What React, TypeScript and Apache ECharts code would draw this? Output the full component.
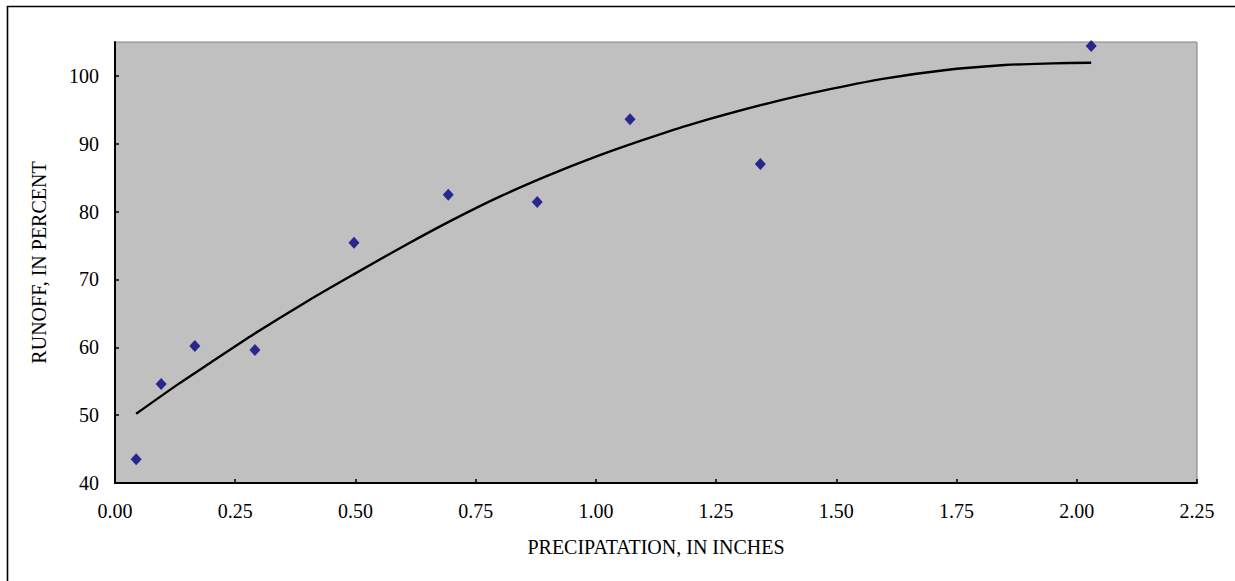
import React, { useEffect, useRef } from "react";
import * as echarts from "echarts";

const precipX = [0.044, 0.096, 0.166, 0.291, 0.497, 0.693, 0.878, 1.071, 1.342, 2.03];
const runoffY = [43.5, 54.6, 60.2, 59.6, 75.4, 82.5, 81.4, 93.6, 87.0, 104.4];

const trendX = [0.044, 0.13, 0.2, 0.29, 0.4, 0.5, 0.6, 0.7, 0.8, 0.9, 1.0, 1.1, 1.2, 1.36, 1.47, 1.6, 1.72, 1.85, 1.95, 2.03];
const trendY = [50.2, 54.5, 57.8, 62.0, 66.8, 70.9, 74.9, 78.7, 82.2, 85.3, 88.1, 90.6, 92.9, 96.0, 97.8, 99.6, 100.8, 101.6, 101.85, 101.95];

const xTitle = "PRECIPATATION, IN INCHES";
const yTitle = "RUNOFF, IN PERCENT";

const FONT = "'Liberation Serif', 'Times New Roman', serif";

export default function App() {
  const ref = useRef<HTMLDivElement>(null);
  useEffect(() => {
    if (!ref.current) return;
    const chart = echarts.init(ref.current, null, { renderer: "svg" });
    chart.setOption({
      animation: false,
      backgroundColor: "#ffffff",
      textStyle: { fontFamily: FONT, color: "#000" },
      graphic: [
        {
          type: "rect",
          shape: { x: 7.5, y: 6.5, width: 1260, height: 600 },
          style: { fill: "none", stroke: "#000", lineWidth: 1.6 },
          silent: true,
        },
      ],
      grid: {
        left: 115,
        top: 42,
        right: 38,
        bottom: 98,
        show: true,
        backgroundColor: "#c0c0c0",
        borderColor: "#808080",
        borderWidth: 1,
      },
      xAxis: {
        type: "value",
        min: 0,
        max: 2.25,
        interval: 0.25,
        name: xTitle,
        nameLocation: "middle",
        nameGap: 54,
        nameTextStyle: { fontFamily: FONT, fontSize: 20, color: "#000" },
        axisLine: { show: true, lineStyle: { color: "#000", width: 2 } },
        axisTick: { show: true, inside: true, length: 4, lineStyle: { color: "#000", width: 1.5 } },
        axisLabel: {
          fontFamily: FONT,
          fontSize: 20,
          color: "#000",
          margin: 18,
          formatter: (v: number) => v.toFixed(2),
        },
        splitLine: { show: false },
      },
      yAxis: {
        type: "value",
        min: 40,
        max: 105,
        interval: 10,
        name: yTitle,
        nameLocation: "middle",
        nameGap: 66,
        nameTextStyle: { fontFamily: FONT, fontSize: 20, color: "#000" },
        axisLine: { show: true, lineStyle: { color: "#000", width: 2 } },
        axisTick: { show: true, inside: true, length: 4, lineStyle: { color: "#000", width: 1.5 } },
        axisLabel: {
          fontFamily: FONT,
          fontSize: 20,
          color: "#000",
          margin: 16,
          showMaxLabel: false,
          formatter: (v: number) => (v > 100 ? "" : String(v)),
        },
        splitLine: { show: false },
      },
      series: [
        {
          type: "line",
          data: trendX.map((x, i) => [x, trendY[i]]),
          showSymbol: false,
          symbol: "none",
          smooth: 0.3,
          lineStyle: { color: "#000", width: 2.4 },
          z: 2,
        },
        {
          type: "scatter",
          data: precipX.map((x, i) => [x, runoffY[i]]),
          symbol: "diamond",
          symbolSize: [11, 12],
          itemStyle: { color: "#000080" },
          z: 3,
        },
      ],
    });
    return () => chart.dispose();
  }, []);
  return (
    <div
      ref={ref}
      style={{ position: "absolute", left: 0, top: 0, width: 1235, height: 581 }}
    />
  );
}
